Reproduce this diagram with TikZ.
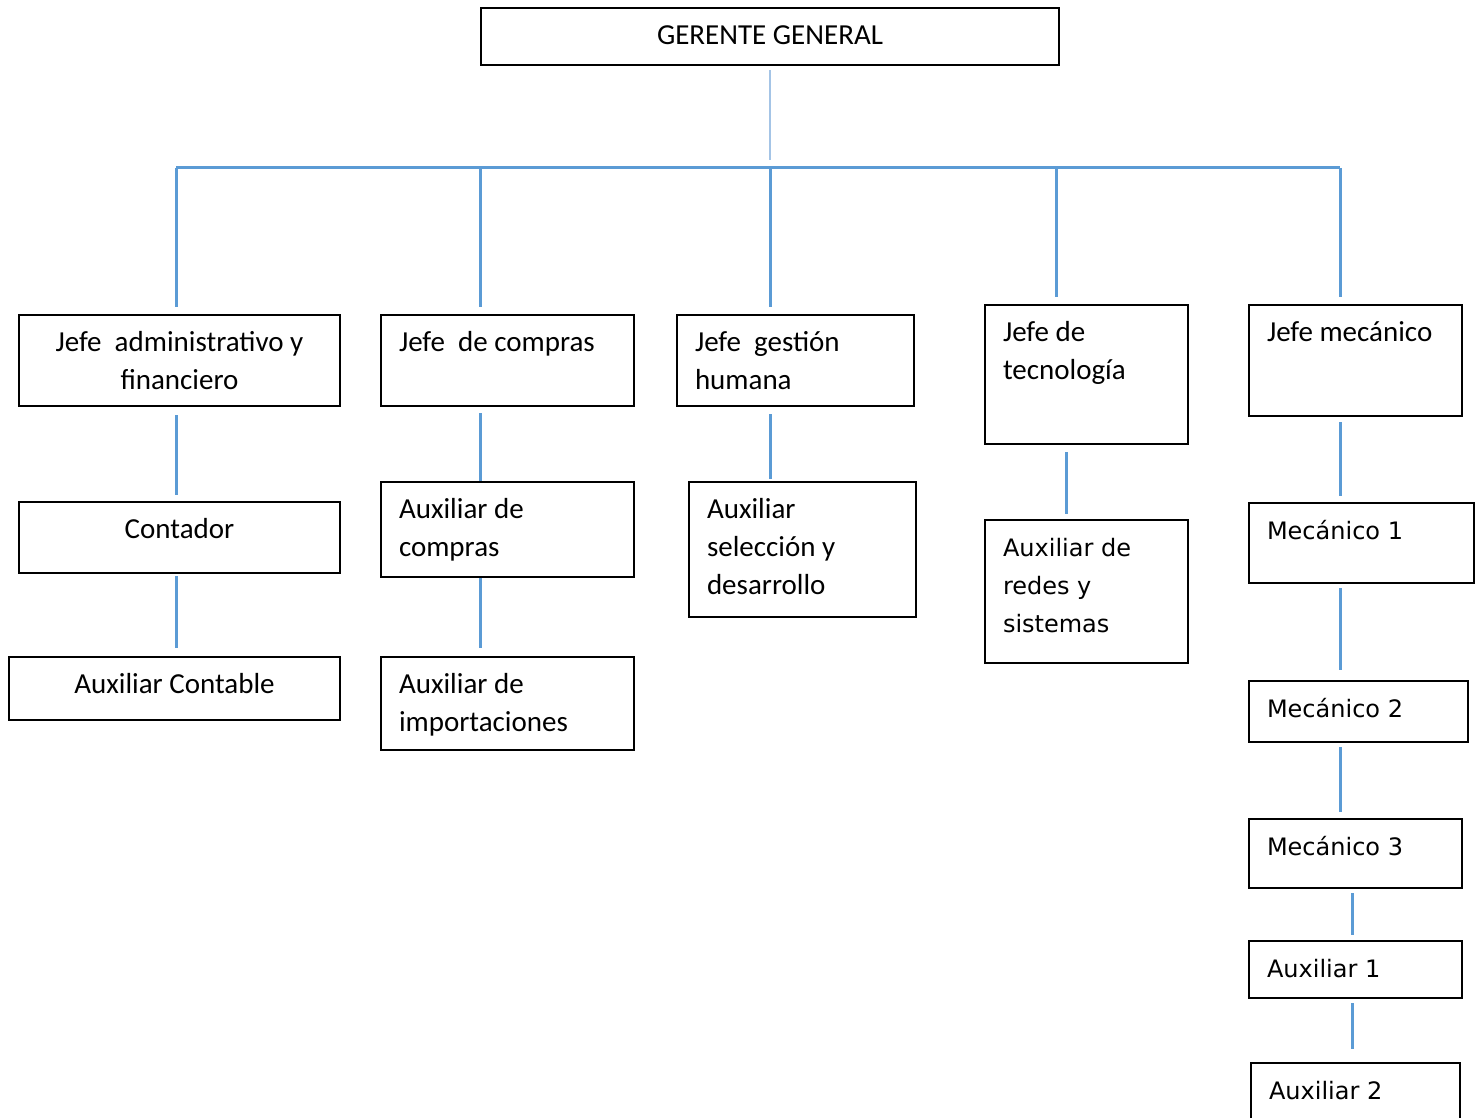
\documentclass[tikz,border=0pt]{standalone}
\usepackage{fontspec}
\setmainfont{Carlito}
\newfontfamily\verdanita{DejaVu Sans}
\definecolor{azul}{HTML}{5B9BD5}
\definecolor{azulclaro}{HTML}{A4C4E6}
% caja de texto: ancho y alto en px, texto arriba
\newcommand{\cajaizq}[3]{\parbox[c][\dimexpr #2pt/2\relax][t]{\dimexpr #1pt/2\relax}{\vspace*{4.8pt}\raggedright\leftskip=9pt\relax\strut #3}}
\newcommand{\cajacen}[3]{\parbox[c][\dimexpr #2pt/2\relax][t]{\dimexpr #1pt/2\relax}{\vspace*{4.8pt}\centering\strut #3}}

\begin{document}
\begin{tikzpicture}[x=0.5pt, y=-0.5pt,
  caja/.style={draw, line width=1pt, inner sep=0pt, anchor=north west, font=\fontsize{14.5}{19}\selectfont},
  cajav/.style={caja, font=\verdanita\fontsize{12}{19}\selectfont},
  linea/.style={draw=azul, line width=1.5pt},
  lineaclara/.style={draw=azulclaro, line width=1.2pt}]
\useasboundingbox (0,0) rectangle (1477,1118);

% cajas
\node[caja] (ger) at (480,7) {\cajacen{578}{57}{GERENTE GENERAL}};
\node[caja] (jaf) at (18,314) {\cajacen{321}{91}{Jefe\ \ administrativo y\\financiero}};
\node[caja] (cont) at (18,501) {\cajacen{321}{71}{Contador}};
\node[caja] (auxc) at (8,656) {\cajacen{331}{63}{Auxiliar Contable}};
\node[caja] (jcom) at (380,314) {\cajaizq{253}{91}{Jefe\ \ de compras}};
\node[caja] (auxcom) at (380,481) {\cajaizq{253}{95}{Auxiliar de\\compras}};
\node[caja] (auximp) at (380,656) {\cajaizq{253}{93}{Auxiliar de\\importaciones}};
\node[caja] (jgh) at (676,314) {\cajaizq{237}{91}{Jefe\ \ gestión\\humana}};
\node[caja] (auxsel) at (688,481) {\cajaizq{227}{135}{Auxiliar\\selección y\\desarrollo}};
\node[caja] (jtec) at (984,304) {\cajaizq{203}{139}{Jefe de\\tecnología}};
\node[cajav] (auxred) at (984,519) {\cajaizq{203}{143}{Auxiliar de\\redes y\\sistemas}};
\node[caja] (jmec) at (1248,304) {\cajaizq{213}{111}{Jefe mecánico}};
\node[cajav] (mec1) at (1248,502) {\cajaizq{225}{80}{Mecánico 1}};
\node[cajav] (mec2) at (1248,680) {\cajaizq{219}{61}{Mecánico 2}};
\node[cajav] (mec3) at (1248,818) {\cajaizq{213}{69}{Mecánico 3}};
\node[cajav] (aux1) at (1248,940) {\cajaizq{213}{57}{Auxiliar 1}};
\node[cajav] (aux2) at (1250,1062) {\cajaizq{209}{70}{Auxiliar 2}};

% barra horizontal
\coordinate (c1) at (176,168);
\coordinate (c2) at (480,168);
\coordinate (c3) at (770,168);
\coordinate (c4) at (1056,168);
\coordinate (c5) at (1340,168);
\coordinate (c4b) at (1066,168);
\coordinate (c5b) at (1352,168);
\draw[lineaclara, shorten <=2pt, shorten >=4pt] (ger.south) -- (ger.south |- c1);
\draw[linea] (c1) -- (c5);
\draw[linea, shorten >=3.5pt] (c1) -- (c1 |- jaf.north);
\draw[linea, shorten >=3.5pt] (c2) -- (c2 |- jcom.north);
\draw[linea, shorten >=3.5pt] (c3) -- (c3 |- jgh.north);
\draw[linea, shorten >=3.5pt] (c4) -- (c4 |- jtec.north);
\draw[linea, shorten >=3.5pt] (c5) -- (c5 |- jmec.north);

% columnas
\draw[linea, shorten <=4pt, shorten >=3pt] (c1 |- jaf.south) -- (c1 |- cont.north);
\draw[linea, shorten <=1pt, shorten >=4pt] (c1 |- cont.south) -- (c1 |- auxc.north);
\draw[linea, shorten <=3pt] (c2 |- jcom.south) -- (c2 |- auxcom.north);
\draw[linea, shorten >=4pt] (c2 |- auxcom.south) -- (c2 |- auximp.north);
\draw[linea, shorten <=3.5pt, shorten >=1pt] (c3 |- jgh.south) -- (c3 |- auxsel.north);
\draw[linea, shorten <=3.5pt, shorten >=2.5pt] (c4b |- jtec.south) -- (c4b |- auxred.north);
\draw[linea, shorten <=2.5pt, shorten >=3pt] (c5 |- jmec.south) -- (c5 |- mec1.north);
\draw[linea, shorten <=2pt, shorten >=5pt] (c5 |- mec1.south) -- (c5 |- mec2.north);
\draw[linea, shorten <=2pt, shorten >=3pt] (c5 |- mec2.south) -- (c5 |- mec3.north);
\draw[linea, shorten <=2pt, shorten >=2.5pt] (c5b |- mec3.south) -- (c5b |- aux1.north);
\draw[linea, shorten <=2pt, shorten >=6.5pt] (c5b |- aux1.south) -- (c5b |- aux2.north);
\end{tikzpicture}
\end{document}
